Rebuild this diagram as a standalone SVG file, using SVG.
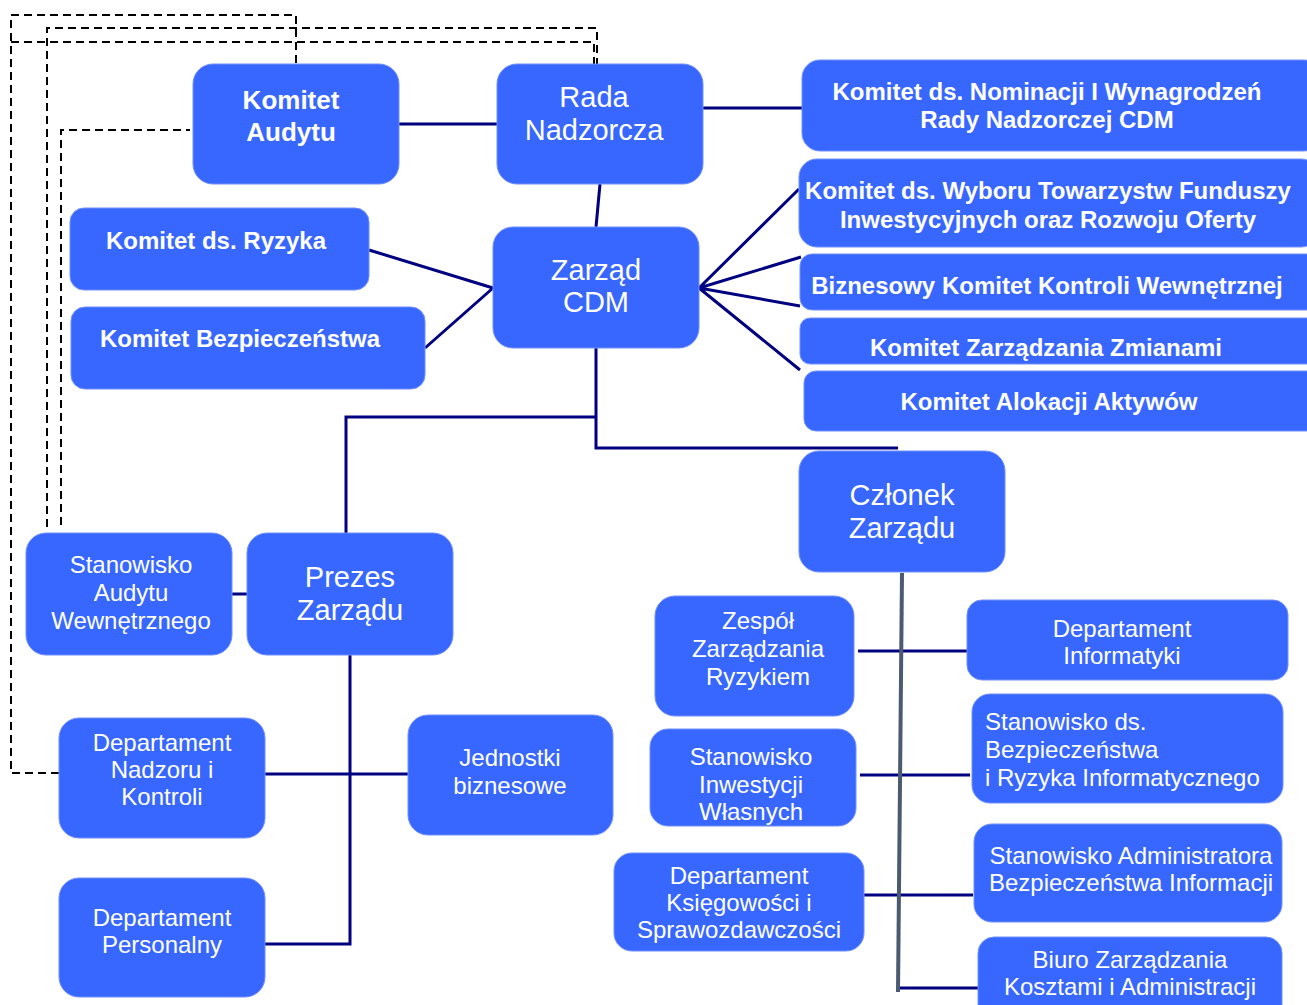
<svg xmlns="http://www.w3.org/2000/svg" width="1307" height="1005" viewBox="0 0 1307 1005">
<style>
.box{fill:#3867FF;stroke:#6f8fff;stroke-width:1}
.t{fill:#fff;font-family:"Liberation Sans",Arial,sans-serif;text-anchor:middle}
.b{font-weight:bold;font-size:24px}
.l{font-size:29px}
.s{font-size:24px}
.c{fill:none;stroke:#000080;stroke-width:3}
.d{fill:none;stroke:#000;stroke-width:2;stroke-dasharray:8 5}
.g{fill:none;stroke:#4a5a70;stroke-width:4}
</style>
<rect width="1307" height="1005" fill="#fff"/>
<g id="connectors">
<path class="c" d="M399 124H497"/>
<path class="c" d="M703 108H802"/>
<path class="c" d="M600 184L596 227"/>
<path class="c" d="M493 288L369 250M493 288L425 348"/>
<path class="c" d="M699 288L799 189M699 288L801 257M699 288L800 306M699 288L800 370"/>
<path class="c" d="M596 348V448H898M596 417H346V533"/>
<path class="c" d="M232 594H247"/>
<path class="c" d="M350 655V944H265M265 774H408"/>
<path class="c" d="M858 651H968M860 775H970M864 895H973M900 988H979"/>
<path class="g" d="M902 573L898 992"/>
<path class="d" d="M296 63V15H11V773H59"/>
<path class="d" d="M47 527V28H597V80"/>
<path class="d" d="M11 42H594V80"/>
<path class="d" d="M61 525V130H190"/>
</g>
<g id="komitet-audytu"><rect class="box" x="193" y="64" width="206" height="120" rx="20"/><text class="t b" x="291" y="109" style="font-size:26px">Komitet</text><text class="t b" x="291" y="141" style="font-size:26px">Audytu</text></g>
<g id="rada-nadzorcza"><rect class="box" x="497" y="64" width="206" height="120" rx="20"/><text class="t l" x="594" y="107">Rada</text><text class="t l" x="594" y="140">Nadzorcza</text></g>
<g id="komitet-nominacji"><rect class="box" x="802" y="60" width="520" height="91" rx="18"/><text class="t b" x="1047" y="100">Komitet ds. Nominacji I Wynagrodzeń</text><text class="t b" x="1047" y="128">Rady Nadzorczej CDM</text></g>
<g id="komitet-wyboru"><rect class="box" x="799" y="159" width="520" height="88" rx="18"/><text class="t b" x="1048" y="199">Komitet ds. Wyboru Towarzystw Funduszy</text><text class="t b" x="1048" y="228">Inwestycyjnych oraz Rozwoju Oferty</text></g>
<g id="komitet-kontroli"><rect class="box" x="800" y="254" width="520" height="56" rx="12"/><text class="t b" x="1047" y="294">Biznesowy Komitet Kontroli Wewnętrznej</text></g>
<g id="komitet-zmianami"><rect class="box" x="800" y="318" width="520" height="46" rx="10"/><text class="t b" x="1046" y="356">Komitet Zarządzania Zmianami</text></g>
<g id="komitet-alokacji"><rect class="box" x="804" y="371" width="520" height="60" rx="12"/><text class="t b" x="1049" y="410">Komitet Alokacji Aktywów</text></g>
<g id="komitet-ryzyka"><rect class="box" x="70" y="208" width="299" height="82" rx="14"/><text class="t b" x="216" y="249">Komitet ds. Ryzyka</text></g>
<g id="komitet-bezpieczenstwa"><rect class="box" x="71" y="307" width="354" height="82" rx="14"/><text class="t b" x="240" y="347">Komitet Bezpieczeństwa</text></g>
<g id="zarzad-cdm"><rect class="box" x="493" y="227" width="206" height="121" rx="20"/><text class="t l" x="596" y="280">Zarząd</text><text class="t l" x="596" y="312">CDM</text></g>
<g id="prezes-zarzadu"><rect class="box" x="247" y="533" width="206" height="122" rx="20"/><text class="t l" x="350" y="587">Prezes</text><text class="t l" x="350" y="620">Zarządu</text></g>
<g id="stanowisko-audytu"><rect class="box" x="26" y="533" width="206" height="122" rx="20"/><text class="t s" x="131" y="573">Stanowisko</text><text class="t s" x="131" y="601">Audytu</text><text class="t s" x="131" y="629">Wewnętrznego</text></g>
<g id="czlonek-zarzadu"><rect class="box" x="799" y="451" width="206" height="121" rx="20"/><text class="t l" x="902" y="505">Członek</text><text class="t l" x="902" y="538">Zarządu</text></g>
<g id="zespol-ryzyka"><rect class="box" x="655" y="596" width="199" height="120" rx="20"/><text class="t s" x="758" y="629">Zespół</text><text class="t s" x="758" y="657">Zarządzania</text><text class="t s" x="758" y="685">Ryzykiem</text></g>
<g id="stanowisko-inwestycji"><rect class="box" x="650" y="729" width="206" height="97" rx="18"/><text class="t s" x="751" y="765">Stanowisko</text><text class="t s" x="751" y="793">Inwestycji</text><text class="t s" x="751" y="820">Własnych</text></g>
<g id="dep-ksiegowosci"><rect class="box" x="614" y="853" width="250" height="98" rx="18"/><text class="t s" x="739" y="884">Departament</text><text class="t s" x="739" y="911">Księgowości i</text><text class="t s" x="739" y="938">Sprawozdawczości</text></g>
<g id="dep-informatyki"><rect class="box" x="967" y="600" width="321" height="80" rx="15"/><text class="t s" x="1122" y="637">Departament</text><text class="t s" x="1122" y="664">Informatyki</text></g>
<g id="stanowisko-bezp-ryzyka"><rect class="box" x="972" y="694" width="311" height="109" rx="18"/><text class="t s" x="985" y="730" style="text-anchor:start">Stanowisko ds.</text><text class="t s" x="985" y="758" style="text-anchor:start">Bezpieczeństwa</text><text class="t s" x="985" y="786" style="text-anchor:start">i Ryzyka Informatycznego</text></g>
<g id="stanowisko-administratora"><rect class="box" x="974" y="824" width="308" height="98" rx="18"/><text class="t s" x="1131" y="864">Stanowisko Administratora</text><text class="t s" x="1131" y="891">Bezpieczeństwa Informacji</text></g>
<g id="biuro-kosztow"><rect class="box" x="978" y="937" width="304" height="90" rx="16"/><text class="t s" x="1130" y="968">Biuro Zarządzania</text><text class="t s" x="1130" y="995">Kosztami i Administracji</text></g>
<g id="dep-nadzoru"><rect class="box" x="59" y="718" width="206" height="120" rx="20"/><text class="t s" x="162" y="751">Departament</text><text class="t s" x="162" y="778">Nadzoru i</text><text class="t s" x="162" y="805">Kontroli</text></g>
<g id="jednostki-biznesowe"><rect class="box" x="408" y="715" width="205" height="120" rx="20"/><text class="t s" x="510" y="766">Jednostki</text><text class="t s" x="510" y="794">biznesowe</text></g>
<g id="dep-personalny"><rect class="box" x="59" y="878" width="206" height="119" rx="20"/><text class="t s" x="162" y="926">Departament</text><text class="t s" x="162" y="953">Personalny</text></g>
</svg>
